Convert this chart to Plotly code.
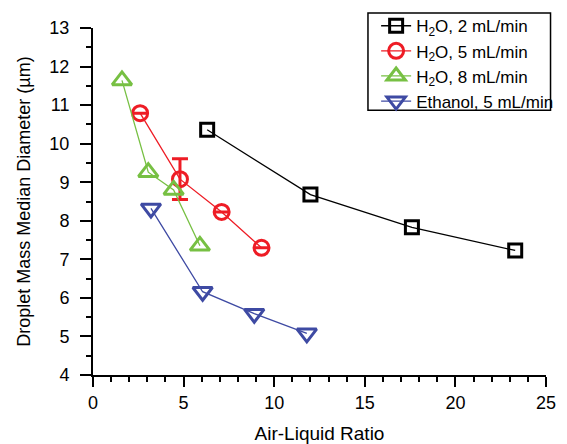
import plotly.graph_objects as go

# Data
h2o_2_x = [6.3, 12.0, 17.6, 23.3]
h2o_2_y = [10.36, 8.68, 7.83, 7.23]

h2o_5_x = [2.6, 4.8, 7.1, 9.3]
h2o_5_y = [10.79, 9.08, 8.23, 7.30]
h2o_5_err = [0.0, 0.53, 0.0, 0.0]

h2o_8_x = [1.6, 3.05, 4.45, 5.9]
h2o_8_y = [11.64, 9.26, 8.80, 7.35]

eth_5_x = [3.2, 6.05, 8.9, 11.8]
eth_5_y = [8.32, 6.16, 5.59, 5.08]

names = ["H<sub>2</sub>O, 2 mL/min", "H<sub>2</sub>O, 5 mL/min",
         "H<sub>2</sub>O, 8 mL/min", "Ethanol, 5 mL/min"]
colors = ["#000000", "#ee1c25", "#77c043", "#3e4aa3"]

fig = go.Figure()
fig.add_trace(go.Scatter(x=h2o_2_x, y=h2o_2_y, name=names[0], mode="lines+markers",
                         line=dict(color=colors[0], width=1.3),
                         marker=dict(symbol="square-open", size=13, color=colors[0], line=dict(width=3))))
fig.add_trace(go.Scatter(x=h2o_5_x, y=h2o_5_y, name=names[1], mode="lines+markers",
                         line=dict(color=colors[1], width=1.3),
                         error_y=dict(type="data", array=h2o_5_err, color=colors[1], thickness=3, width=8),
                         marker=dict(symbol="circle-open", size=15, color=colors[1], line=dict(width=3))))
fig.add_trace(go.Scatter(x=h2o_8_x, y=h2o_8_y, name=names[2], mode="lines+markers",
                         line=dict(color=colors[2], width=1.3),
                         marker=dict(symbol="triangle-up-open", size=17, color=colors[2], line=dict(width=3))))
fig.add_trace(go.Scatter(x=eth_5_x, y=eth_5_y, name=names[3], mode="lines+markers",
                         line=dict(color=colors[3], width=1.3),
                         marker=dict(symbol="triangle-down-open", size=17, color=colors[3], line=dict(width=3))))

font = "Liberation Sans"
fig.update_layout(
    width=567, height=444,
    margin=dict(l=93, r=8, t=25, b=69),
    paper_bgcolor="white", plot_bgcolor="white",
    font=dict(family=font, size=17, color="black"),
    showlegend=True,
    legend=dict(x=0.625, y=1.057, xanchor="left", yanchor="top",
                borderwidth=0, bgcolor="rgba(0,0,0,0)",
                font=dict(family=font, size=17), tracegroupgap=0, itemsizing="trace"),
    shapes=[dict(type="rect", xref="paper", yref="paper",
                 x0=0.607, x1=1.01, y0=0.763, y1=1.043,
                 line=dict(color="black", width=1.5), fillcolor="white", layer="above")],
    xaxis=dict(range=[0, 25], tickvals=[0, 5, 10, 15, 20, 25], showgrid=False, zeroline=False,
               automargin=False,
               showline=True, linecolor="black", linewidth=2,
               ticks="outside", ticklen=10, tickwidth=2, tickcolor="black",
               minor=dict(dtick=1, ticks="outside", ticklen=5, tickwidth=2, tickcolor="black"),
               title=dict(text="Air-Liquid Ratio", font=dict(family=font, size=19), standoff=16),
               tickfont=dict(family=font, size=18)),
    yaxis=dict(range=[4, 13], dtick=1, showgrid=False, zeroline=False,
               automargin=False,
               showline=True, linecolor="black", linewidth=2,
               ticks="outside", ticklen=11, tickwidth=2, tickcolor="black",
               ticklabelstandoff=7,
               minor=dict(dtick=0.5, ticks="outside", ticklen=5, tickwidth=2, tickcolor="black"),
               title=dict(text="Droplet Mass Median Diameter (µm)", font=dict(family=font, size=18), standoff=14),
               tickfont=dict(family=font, size=18)),
)

fig.write_html("out.html", config={"displayModeBar": False},
               post_script="document.body.style.margin='0';document.body.style.overflow='hidden';")
